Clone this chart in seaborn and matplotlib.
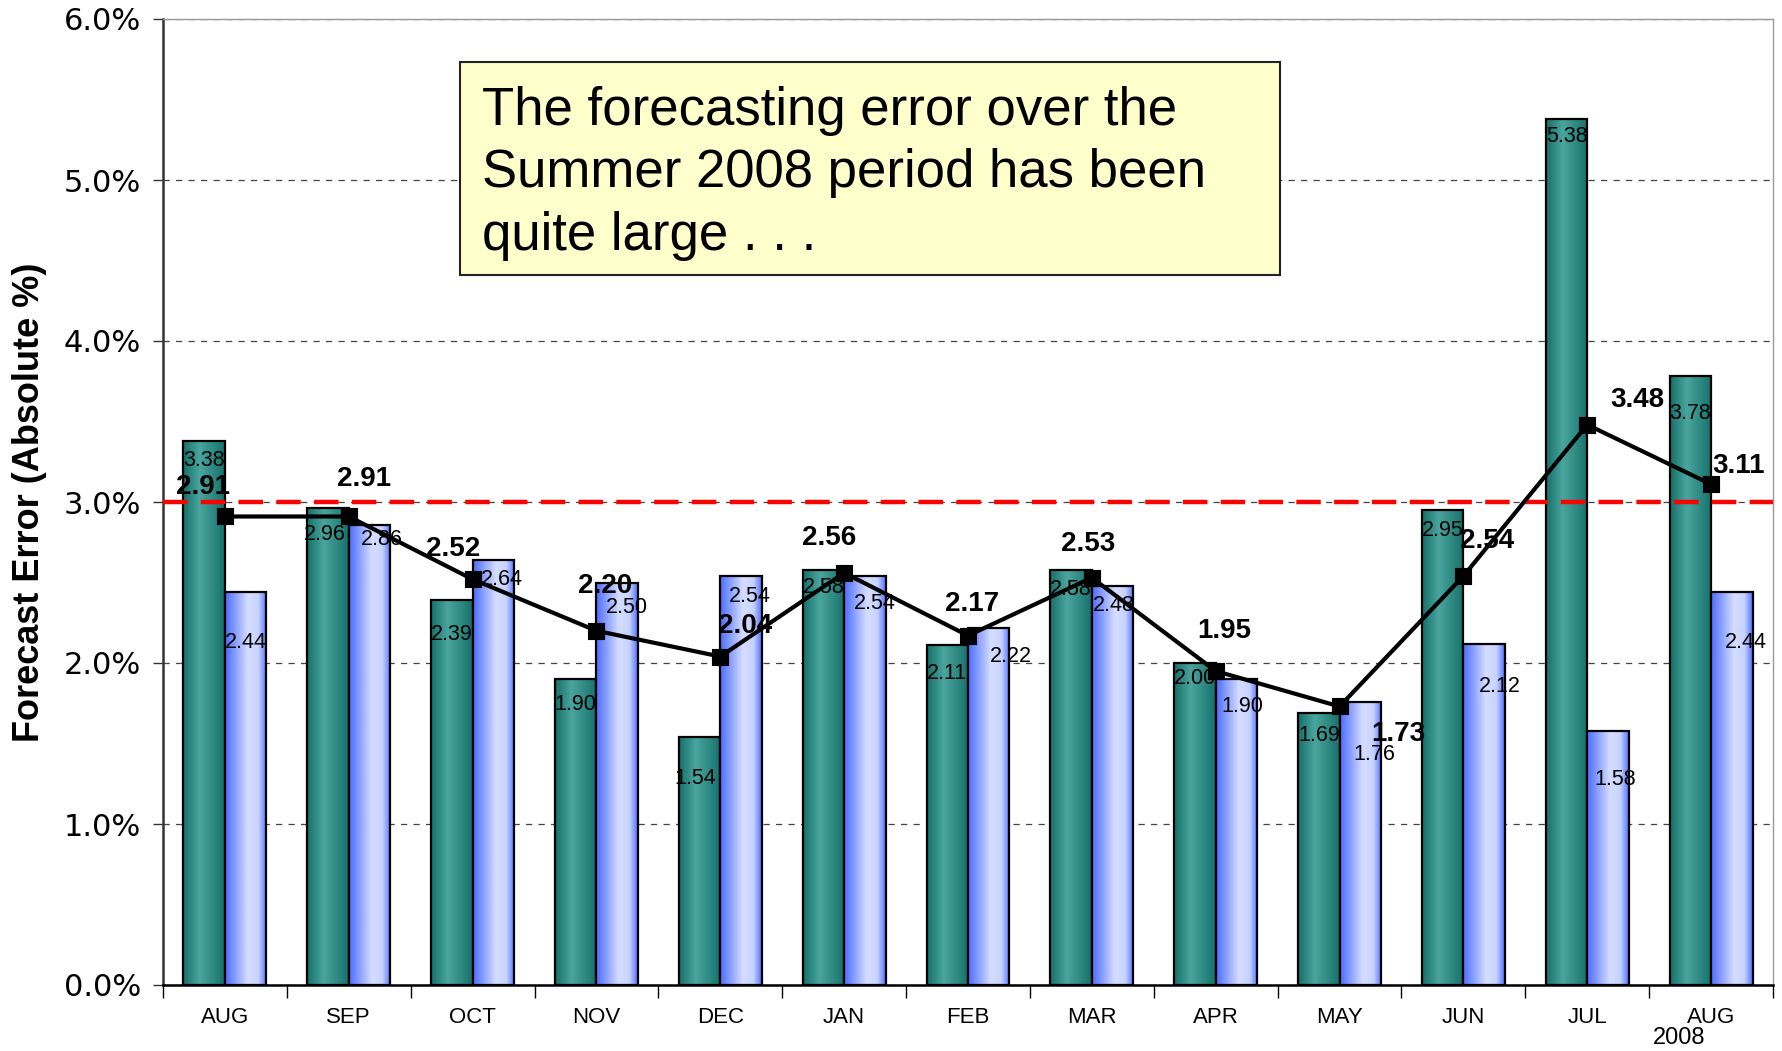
import numpy as np
import pandas as pd
import matplotlib
matplotlib.use('Agg')
import matplotlib.pyplot as plt
from matplotlib.colors import LinearSegmentedColormap
from matplotlib.patches import Rectangle
from matplotlib.ticker import FixedLocator, FuncFormatter
import seaborn as sns

# ---- data ----
periods = ['2007-08', '2007-09', '2007-10', '2007-11', '2007-12', '2008-01', '2008-02',
           '2008-03', '2008-04', '2008-05', '2008-06', '2008-07', '2008-08']
month_labels = ['AUG', 'SEP', 'OCT', 'NOV', 'DEC', 'JAN', 'FEB',
                'MAR', 'APR', 'MAY', 'JUN', 'JUL', 'AUG']
teal_values = [3.38, 2.96, 2.39, 1.90, 1.54, 2.58, 2.11, 2.58, 2.00, 1.69, 2.95, 5.38, 3.78]
blue_values = [2.44, 2.86, 2.64, 2.50, 2.54, 2.54, 2.22, 2.48, 1.90, 1.76, 2.12, 1.58, 2.44]
line_values = [2.91, 2.91, 2.52, 2.20, 2.04, 2.56, 2.17, 2.53, 1.95, 1.73, 2.54, 3.48, 3.11]
threshold = 3.0
y_ticks = [0, 1, 2, 3, 4, 5, 6]
note_text = 'The forecasting error over the\nSummer 2008 period has been\nquite large . . .'

# hand nudges for the labels, in points (dx, dy)
teal_label_nudge = [(0, -14), (-2, -19), (0, -25), (0, -18), (-3, -30), (0, -13), (0, -20),
                    (0, -14), (0, -11), (0, -16), (0, -15), (0, -13), (0, -27)]
blue_label_nudge = [(0, -36), (9, -11), (6, -14), (7, -18), (6, -15), (7, -20), (16, -21),
                    (1, -14), (4, -20), (10, -38), (11, -31), (5, -35), (10, -36)]
line_label_nudge = [(-16, 21), (11, 27), (-14, 22), (6, 32), (18, 22), (-11, 25), (3, 23),
                    (-3, 24), (6, 29), (42, -20), (17, 25), (36, 18), (20, 13)]

df = pd.DataFrame({
    'period': periods * 2,
    'error': teal_values + blue_values,
    'series': ['teal'] * len(periods) + ['blue'] * len(periods),
})

sns.set_style('white')
plt.rcParams['font.family'] = ['Liberation Sans', 'DejaVu Sans']
plt.rcParams['text.color'] = 'black'
plt.rcParams['axes.labelcolor'] = 'black'
plt.rcParams['xtick.color'] = 'black'
plt.rcParams['ytick.color'] = 'black'

fig = plt.figure(figsize=(17.82, 10.51), dpi=100)
ax = fig.add_axes([163 / 1782, 1 - 985 / 1051, 1610 / 1782, 966 / 1051])

sns.barplot(data=df, x='period', y='error', hue='series', order=periods,
            hue_order=['teal', 'blue'], width=0.67, gap=0, legend=False,
            palette={'teal': '#2a8c85', 'blue': '#9fb2ff'},
            edgecolor='black', linewidth=1.6, errorbar=None, ax=ax)

n = len(periods)
ax.set_xlim(-0.5, n - 0.5)
ax.set_ylim(0, 6)

teal_cmap = LinearSegmentedColormap.from_list(
    'teal', [(0, '#16706a'), (0.4, '#4aa59e'), (1, '#15716a')])
blue_cmap = LinearSegmentedColormap.from_list(
    'blue', [(0, '#4b6cff'), (0.55, '#d6deff'), (0.8, '#c8d3ff'), (1, '#4f70ff')])
grad = np.linspace(0, 1, 128).reshape(1, -1)

for i, bar in enumerate(ax.patches[:2 * n]):
    is_teal = i < n
    x0, w, h = bar.get_x(), bar.get_width(), bar.get_height()
    z = 2 if is_teal else 3
    img = ax.imshow(grad, cmap=teal_cmap if is_teal else blue_cmap, aspect='auto',
                    extent=(x0, x0 + w, 0, h), zorder=z, interpolation='bicubic')
    img.set_clip_path(bar)
    bar.set_facecolor('none')
    bar.set_zorder(z + 0.1)

ax.set_xlim(-0.5, n - 0.5)
ax.set_ylim(0, 6)

# value labels on the bars
for i, (v, (dx, dy)) in enumerate(zip(teal_values, teal_label_nudge)):
    ax.annotate(f'{v:.2f}', (i - 0.1675, v), xytext=(dx, dy), textcoords='offset points',
                ha='center', va='center', fontsize=15.5, zorder=2.5)
for i, (v, (dx, dy)) in enumerate(zip(blue_values, blue_label_nudge)):
    ax.annotate(f'{v:.2f}', (i + 0.1675, v), xytext=(dx, dy), textcoords='offset points',
                ha='center', va='center', fontsize=15.5, zorder=3.5)

# threshold line
ax.axhline(threshold, color='#ff0000', linewidth=3.2, dashes=(5.5, 3), zorder=4)

# average line
sns.pointplot(x=periods, y=line_values, order=periods, color='black', markers='s',
              linestyles='-', markersize=10, linewidth=3, errorbar=None, ax=ax)
for line in ax.lines:
    if line.get_marker() == 's':
        line.set_zorder(5)

for i, (v, (dx, dy)) in enumerate(zip(line_values, line_label_nudge)):
    ax.annotate(f'{v:.2f}', (i, v), xytext=(dx, dy), textcoords='offset points',
                ha='center', va='center', fontsize=20, fontweight='bold', zorder=6)

# axes styling
ax.yaxis.set_major_locator(FixedLocator(y_ticks))
ax.yaxis.set_major_formatter(FuncFormatter(lambda v, p: f'{v:.1f}%'))
ax.tick_params(axis='y', labelsize=22, length=7, width=1, color='#333333',
               direction='out', left=True, pad=9)
for lab in ax.get_yticklabels():
    lab.set_fontfamily('DejaVu Sans')

ax.set_xticks(range(n))
ax.set_xticklabels(month_labels)
ax.set_xticks(np.arange(-0.5, n, 1.0), minor=True)
ax.tick_params(axis='x', which='major', length=0, labelsize=16, pad=16)
ax.tick_params(axis='x', which='minor', length=9, width=1, color='black',
               direction='out', bottom=True)
ax.set_xlabel('')
ax.set_ylabel('Forecast Error (Absolute %)', fontsize=26, fontweight='bold',
              labelpad=12)

ax.yaxis.grid(True, color='#444444', linestyle=(0, (5, 5)), linewidth=0.9)
ax.set_axisbelow(True)
for g in ax.get_ygridlines():
    g.set_zorder(0.5)

ax.spines['left'].set_color('#333333')
ax.spines['left'].set_linewidth(1.8)
ax.spines['bottom'].set_color('black')
ax.spines['bottom'].set_linewidth(1.8)
for s in ['top', 'right']:
    ax.spines[s].set_color('#999999')
    ax.spines[s].set_linewidth(1.0)

ax.text(11.74, -0.055, '2008', transform=ax.get_xaxis_transform(), ha='center',
        va='center', fontsize=17)

# note box
ax.add_patch(Rectangle((0.1845, 0.735), 0.5093, 0.2205, transform=ax.transAxes,
                       facecolor='#ffffcc', edgecolor='#222222', linewidth=1.5,
                       zorder=7))
ax.text(0.198, 0.931, note_text, transform=ax.transAxes, ha='left', va='top',
        fontsize=38, linespacing=1.32, zorder=8)

fig.savefig('out.png', dpi=100, facecolor='white')
